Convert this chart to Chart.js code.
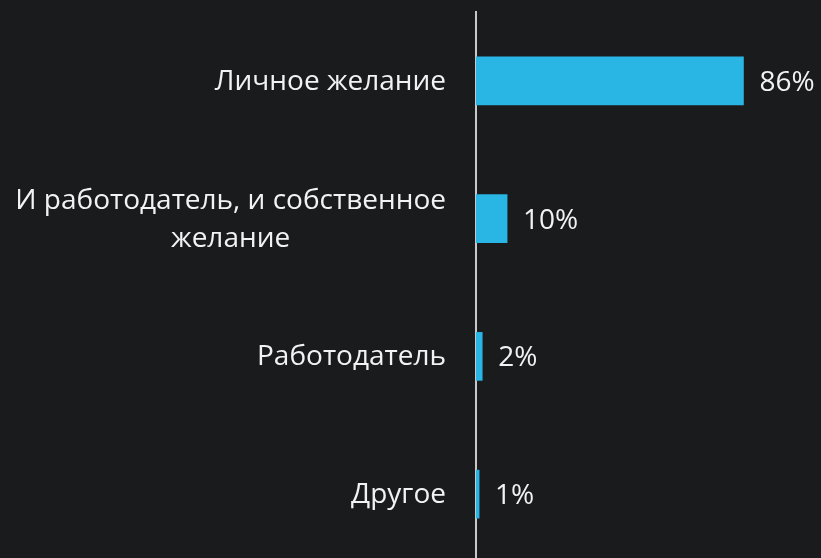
<!DOCTYPE html>
<html>
<head>
<meta charset="utf-8">
<script src="https://cdn.jsdelivr.net/npm/chart.js@4"></script>
<style>
    html, body { margin: 0; padding: 0; background: #1a1b1d; overflow: hidden; }
    canvas { display: block; }
</style>
</head>
<body>
<canvas id="bar_chart" width="821" height="563"></canvas>
<script>
// данные
let categorias = [
    ["Личное желание"],
    ["И работодатель, и собственное", "желание"],
    ["Работодатель"],
    ["Другое"]
];
let valores = [86, 10, 2, 1];

let fuente = '28px "Open Sans"';
let colorTexto = '#f2f2f2';

// etiquetas de la izquierda, cada bloque alineado a la derecha y centrado por lineas
let etiquetasPlugin = {
    id: 'etiquetas',
    afterDraw(chart) {
        let ctx = chart.ctx;
        let yScale = chart.scales.y;
        let meta = chart.getDatasetMeta(0);
        ctx.save();
        ctx.font = fuente;
        ctx.fillStyle = colorTexto;
        ctx.textBaseline = 'middle';

        for (let i = 0; i < categorias.length; i++) {
            let lineas = categorias[i];
            let ancho = 0;
            lineas.forEach(l => { ancho = Math.max(ancho, ctx.measureText(l).width); });
            let derecha = chart.chartArea.left - 30;
            let centroX = derecha - ancho / 2;
            let centroY = yScale.getPixelForValue(i);
            let alto = 38;
            let y0 = centroY - (lineas.length - 1) * alto / 2 + 1;
            ctx.textAlign = 'center';
            lineas.forEach((l, j) => ctx.fillText(l, centroX, y0 + j * alto));

            // valor al final de la barra
            let bar = meta.data[i];
            ctx.textAlign = 'left';
            ctx.fillText(valores[i] + '%', bar.x + 16, bar.y + 2);
        }
        ctx.restore();
    }
};

new Chart(document.getElementById("bar_chart").getContext("2d"), {
    type: 'bar',
    data: {
        labels: categorias,
        datasets: [{
            data: valores,
            backgroundColor: 'rgb(41, 182, 228)',
            barThickness: 48
        }]
    },
    options: {
        indexAxis: 'y',
        responsive: false,
        animation: false,
        devicePixelRatio: 1,
        layout: {
            padding: { left: 476, right: 34, top: 12, bottom: 0 }
        },
        plugins: {
            legend: { display: false },
            tooltip: { enabled: false }
        },
        scales: {
            x: {
                display: false,
                min: 0,
                max: 100
            },
            y: {
                display: true,
                grid: { display: false, drawTicks: false },
                ticks: { display: false },
                border: { display: true, color: '#c8c8c8', width: 2 }
            }
        }
    },
    plugins: [etiquetasPlugin]
});
</script>
</body>
</html>
